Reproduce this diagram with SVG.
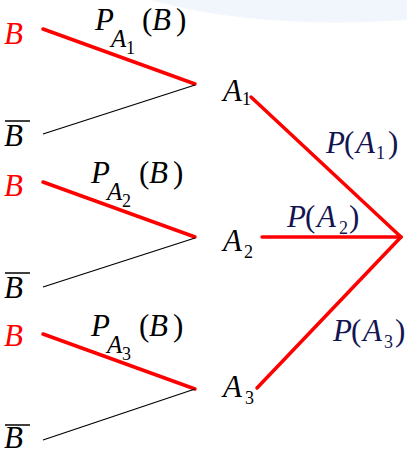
<svg xmlns="http://www.w3.org/2000/svg" width="407" height="454" viewBox="0 0 407 454" font-family="'Liberation Serif', 'Times New Roman', serif">
<style>
.t{font-size:31px;font-style:italic;fill:#000}
.n{font-size:18px;fill:#000}
.u{font-size:31px;fill:#000}
.r{fill:#ff0000}
.nv{fill:#141452}
.rl{stroke:#ff0000;stroke-width:3.5;stroke-linecap:round;fill:none}
.bl{stroke:#000;stroke-width:1.3;fill:none}
.ov{stroke:#000;stroke-width:1.5}
</style>
<rect width="407" height="454" fill="#fff"/>
<path d="M150 0 Q260 30 407 20 L407 0 Z" fill="#eef2fb" opacity="0.8"/>
<g id="connectors">
<line class="rl" x1="43" y1="29" x2="195" y2="84"/>
<line class="bl" x1="43" y1="134" x2="195" y2="85"/>
<line class="rl" x1="43" y1="182" x2="195" y2="237"/>
<line class="bl" x1="43" y1="287" x2="195" y2="238"/>
<line class="rl" x1="43" y1="334" x2="195" y2="389"/>
<line class="bl" x1="43" y1="440" x2="195" y2="389"/>
<line class="rl" x1="251" y1="97" x2="401" y2="237"/>
<line class="rl" x1="262" y1="237" x2="401" y2="237"/>
<line class="rl" x1="257" y1="388" x2="401" y2="237"/>
</g>
<g id="B1"><text class="t r" x="4" y="44">B</text></g>
<g id="Bbar1"><line class="ov" x1="5" y1="121" x2="30" y2="121"/><text class="t" x="4" y="146">B</text></g>
<g id="B2"><text class="t r" x="4" y="196">B</text></g>
<g id="Bbar2"><line class="ov" x1="5" y1="273" x2="30" y2="273"/><text class="t" x="4" y="298">B</text></g>
<g id="B3"><text class="t r" x="4" y="346">B</text></g>
<g id="Bbar3"><line class="ov" x1="5" y1="425" x2="30" y2="425"/><text class="t" x="4" y="448">B</text></g>
<g id="label1"><text class="t" x="95" y="30">P</text><text class="t" x="111" y="47" style="font-size:25px">A</text><text class="n" x="126" y="54">1</text><text class="u" x="142" y="30">(</text><text class="t" x="152" y="30">B</text><text class="u" x="176" y="30">)</text></g>
<g id="label2"><text class="t" x="91" y="183">P</text><text class="t" x="107" y="200" style="font-size:25px">A</text><text class="n" x="122" y="207">2</text><text class="u" x="139" y="183">(</text><text class="t" x="149" y="183">B</text><text class="u" x="173" y="183">)</text></g>
<g id="label3"><text class="t" x="91" y="336">P</text><text class="t" x="107" y="353" style="font-size:25px">A</text><text class="n" x="122" y="360">3</text><text class="u" x="139" y="336">(</text><text class="t" x="149" y="336">B</text><text class="u" x="173" y="336">)</text></g>
<g id="A1"><text class="t" x="223" y="101">A</text><text class="n" x="242" y="105">1</text></g>
<g id="A2"><text class="t" x="223" y="251">A</text><text class="n" x="244" y="258">2</text></g>
<g id="A3"><text class="t" x="223" y="397">A</text><text class="n" x="245" y="404">3</text></g>
<g id="PA1"><text class="t nv" x="326" y="153">P</text><text class="u nv" x="344" y="153">(</text><text class="t nv" x="356" y="153">A</text><text class="n nv" x="376" y="159">1</text><text class="u nv" x="388" y="153">)</text></g>
<g id="PA2"><text class="t nv" x="287" y="227">P</text><text class="u nv" x="305" y="227">(</text><text class="t nv" x="317" y="227">A</text><text class="n nv" x="339" y="234">2</text><text class="u nv" x="349" y="227">)</text></g>
<g id="PA3"><text class="t nv" x="333" y="341">P</text><text class="u nv" x="351" y="341">(</text><text class="t nv" x="363" y="341">A</text><text class="n nv" x="384" y="348">3</text><text class="u nv" x="395" y="341">)</text></g>
</svg>
